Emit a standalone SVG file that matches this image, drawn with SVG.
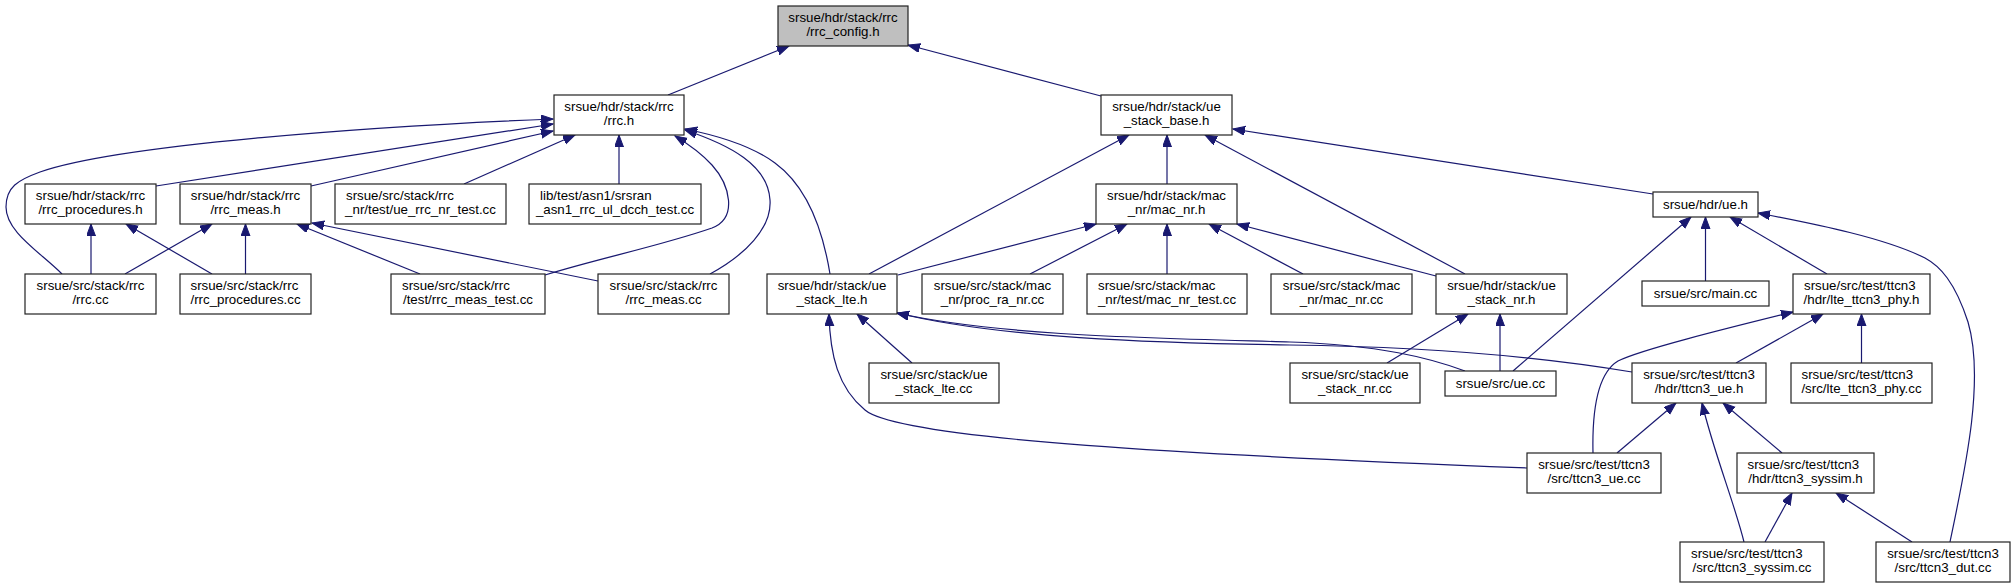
<svg xmlns="http://www.w3.org/2000/svg" width="2016" height="588" viewBox="0 0 2016 588">
<style>
.n rect{fill:#fff;stroke:#222;stroke-width:1.2}
.n.g rect{fill:#bfbfbf}
.n text{font-family:"Liberation Sans",Arial,Helvetica,sans-serif;font-size:13.3px;fill:#000;text-anchor:middle}
.n text.l{text-anchor:start}
#edges path{fill:none;stroke:#191970;stroke-width:1.2;marker-end:url(#ah)}
</style>
<defs>
<marker id="ah" markerUnits="userSpaceOnUse" markerWidth="14" markerHeight="10" refX="12" refY="4.5" orient="auto">
<path d="M0,0 L12,4.5 L0,9 z" fill="#191970" stroke="#191970" stroke-width="1"/>
</marker>
</defs>
<rect width="2016" height="588" fill="#fff"/>
<g id="edges">
<path d="M668,95 L789,46"/>
<path d="M1101,96 L908,45"/>
<path d="M156,186 L553,124"/>
<path d="M311,186 L553,131"/>
<path d="M464,184 L575,135"/>
<path d="M619,184 L619,135"/>
<path d="M62,274 C40,252 6,232 6,207 C6,187 18,180 40,172 C120,144 380,126 553,119"/>
<path d="M91,274 L91,224"/>
<path d="M212,274 L126,224"/>
<path d="M125,274 L212,224"/>
<path d="M245.5,274 L245.5,224"/>
<path d="M420,274 L297,224"/>
<path d="M598,281 L312,223"/>
<path d="M545,275 C600,258 660,246 712,228 C738,218 730,185 712,165 C700,152 690,145 675,136"/>
<path d="M710,274 C745,255 772,228 770,200 C768,165 730,145 685,130"/>
<path d="M830,274 C822,225 805,185 775,163 C752,146 720,136 685,129"/>
<path d="M869,274 L1129,135"/>
<path d="M1167,184 L1167,135"/>
<path d="M1465,274 L1205,135"/>
<path d="M1653,194 L1233,129"/>
<path d="M898,275 L1096,224"/>
<path d="M1030,274 L1127,224"/>
<path d="M1167,274 L1167,224"/>
<path d="M1303,274 L1209,224"/>
<path d="M1436,276 L1237,224"/>
<path d="M912,363 L857,314"/>
<path d="M1527,468 C1200,455 900,440 865,410 C838,388 830,355 829,314"/>
<path d="M1465,371 C1430,358 1380,345 1290,342 C1150,338 1000,336 897,313"/>
<path d="M1632,372 C1560,360 1450,347 1290,345 C1150,343 1000,338 897,313"/>
<path d="M1387,363 L1468,314"/>
<path d="M1500,371 L1500,314"/>
<path d="M1513,371 L1691,217"/>
<path d="M1705.5,281 L1705.5,217"/>
<path d="M1827,274 L1730,217"/>
<path d="M1950,542 C1965,470 1985,380 1968,322 C1955,282 1940,266 1925,258 C1885,238 1820,225 1758,213"/>
<path d="M1593,453 C1592,410 1598,373 1618,361 C1640,350 1720,330 1793,312"/>
<path d="M1736,363 L1823,314"/>
<path d="M1861.5,363 L1861.5,314"/>
<path d="M1617,453 L1676,403"/>
<path d="M1744,542 C1735,505 1713,450 1702,403"/>
<path d="M1782,453 L1723,403"/>
<path d="M1765,542 L1792,493"/>
<path d="M1912,542 L1836,493"/>
</g>
<g id="rrc_config_h" class="n g"><rect x="778" y="6" width="130" height="40"/><text x="843" y="21.8">srsue/hdr/stack/rrc</text><text x="843" y="36.3">/rrc_config.h</text></g>
<g id="rrc_h" class="n"><rect x="554" y="95" width="130" height="40"/><text x="619" y="110.8">srsue/hdr/stack/rrc</text><text x="619" y="125.3">/rrc.h</text></g>
<g id="ue_stack_base_h" class="n"><rect x="1101" y="95" width="131" height="40"/><text x="1166.5" y="110.8">srsue/hdr/stack/ue</text><text x="1166.5" y="125.3">_stack_base.h</text></g>
<g id="rrc_procedures_h" class="n"><rect x="25" y="184" width="131" height="40"/><text x="90.5" y="199.8">srsue/hdr/stack/rrc</text><text x="90.5" y="214.3">/rrc_procedures.h</text></g>
<g id="rrc_meas_h" class="n"><rect x="180" y="184" width="131" height="40"/><text x="245.5" y="199.8">srsue/hdr/stack/rrc</text><text x="245.5" y="214.3">/rrc_meas.h</text></g>
<g id="ue_rrc_nr_test_cc" class="n"><rect x="335" y="184" width="171" height="40"/><text class="l" x="346" y="199.8">srsue/src/stack/rrc</text><text x="420.5" y="214.3">_nr/test/ue_rrc_nr_test.cc</text></g>
<g id="asn1_rrc_ul_dcch_test_cc" class="n"><rect x="529" y="184" width="172" height="40"/><text class="l" x="540" y="199.8">lib/test/asn1/srsran</text><text x="615" y="214.3">_asn1_rrc_ul_dcch_test.cc</text></g>
<g id="mac_nr_h" class="n"><rect x="1096" y="184" width="141" height="40"/><text x="1166.5" y="199.8">srsue/hdr/stack/mac</text><text x="1166.5" y="214.3">_nr/mac_nr.h</text></g>
<g id="ue_h" class="n"><rect x="1653" y="192" width="105" height="25"/><text x="1705.5" y="208.8">srsue/hdr/ue.h</text></g>
<g id="rrc_cc" class="n"><rect x="25" y="274" width="131" height="40"/><text x="90.5" y="289.8">srsue/src/stack/rrc</text><text x="90.5" y="304.3">/rrc.cc</text></g>
<g id="rrc_procedures_cc" class="n"><rect x="180" y="274" width="131" height="40"/><text class="l" x="190.5" y="289.8">srsue/src/stack/rrc</text><text x="245.5" y="304.3">/rrc_procedures.cc</text></g>
<g id="rrc_meas_test_cc" class="n"><rect x="391" y="274" width="154" height="40"/><text class="l" x="402" y="289.8">srsue/src/stack/rrc</text><text x="468" y="304.3">/test/rrc_meas_test.cc</text></g>
<g id="rrc_meas_cc" class="n"><rect x="598" y="274" width="131" height="40"/><text x="663.5" y="289.8">srsue/src/stack/rrc</text><text x="663.5" y="304.3">/rrc_meas.cc</text></g>
<g id="ue_stack_lte_h" class="n"><rect x="767" y="274" width="130" height="40"/><text x="832" y="289.8">srsue/hdr/stack/ue</text><text x="832" y="304.3">_stack_lte.h</text></g>
<g id="proc_ra_nr_cc" class="n"><rect x="922" y="274" width="141" height="40"/><text x="992.5" y="289.8">srsue/src/stack/mac</text><text x="992.5" y="304.3">_nr/proc_ra_nr.cc</text></g>
<g id="mac_nr_test_cc" class="n"><rect x="1087" y="274" width="160" height="40"/><text class="l" x="1098" y="289.8">srsue/src/stack/mac</text><text x="1167" y="304.3">_nr/test/mac_nr_test.cc</text></g>
<g id="mac_nr_cc" class="n"><rect x="1271" y="274" width="141" height="40"/><text x="1341.5" y="289.8">srsue/src/stack/mac</text><text x="1341.5" y="304.3">_nr/mac_nr.cc</text></g>
<g id="ue_stack_nr_h" class="n"><rect x="1436" y="274" width="131" height="40"/><text x="1501.5" y="289.8">srsue/hdr/stack/ue</text><text x="1501.5" y="304.3">_stack_nr.h</text></g>
<g id="main_cc" class="n"><rect x="1642" y="281" width="127" height="25"/><text x="1705.5" y="297.8">srsue/src/main.cc</text></g>
<g id="lte_ttcn3_phy_h" class="n"><rect x="1793" y="274" width="137" height="40"/><text class="l" x="1804" y="289.8">srsue/src/test/ttcn3</text><text x="1861.5" y="304.3">/hdr/lte_ttcn3_phy.h</text></g>
<g id="ue_stack_lte_cc" class="n"><rect x="869" y="363" width="130" height="40"/><text x="934" y="378.8">srsue/src/stack/ue</text><text x="934" y="393.3">_stack_lte.cc</text></g>
<g id="ue_stack_nr_cc" class="n"><rect x="1290" y="363" width="130" height="40"/><text x="1355" y="378.8">srsue/src/stack/ue</text><text x="1355" y="393.3">_stack_nr.cc</text></g>
<g id="ue_cc" class="n"><rect x="1445" y="371" width="111" height="25"/><text x="1500.5" y="387.8">srsue/src/ue.cc</text></g>
<g id="ttcn3_ue_h" class="n"><rect x="1632" y="363" width="134" height="40"/><text x="1699" y="378.8">srsue/src/test/ttcn3</text><text x="1699" y="393.3">/hdr/ttcn3_ue.h</text></g>
<g id="lte_ttcn3_phy_cc" class="n"><rect x="1791" y="363" width="141" height="40"/><text class="l" x="1801.5" y="378.8">srsue/src/test/ttcn3</text><text x="1861.5" y="393.3">/src/lte_ttcn3_phy.cc</text></g>
<g id="ttcn3_ue_cc" class="n"><rect x="1527" y="453" width="134" height="40"/><text x="1594" y="468.8">srsue/src/test/ttcn3</text><text x="1594" y="483.3">/src/ttcn3_ue.cc</text></g>
<g id="ttcn3_syssim_h" class="n"><rect x="1737" y="453" width="137" height="40"/><text class="l" x="1747.5" y="468.8">srsue/src/test/ttcn3</text><text x="1805.5" y="483.3">/hdr/ttcn3_syssim.h</text></g>
<g id="ttcn3_syssim_cc" class="n"><rect x="1680" y="542" width="144" height="40"/><text class="l" x="1691" y="557.8">srsue/src/test/ttcn3</text><text x="1752" y="572.3">/src/ttcn3_syssim.cc</text></g>
<g id="ttcn3_dut_cc" class="n"><rect x="1876" y="542" width="134" height="40"/><text x="1943" y="557.8">srsue/src/test/ttcn3</text><text x="1943" y="572.3">/src/ttcn3_dut.cc</text></g>
</svg>
